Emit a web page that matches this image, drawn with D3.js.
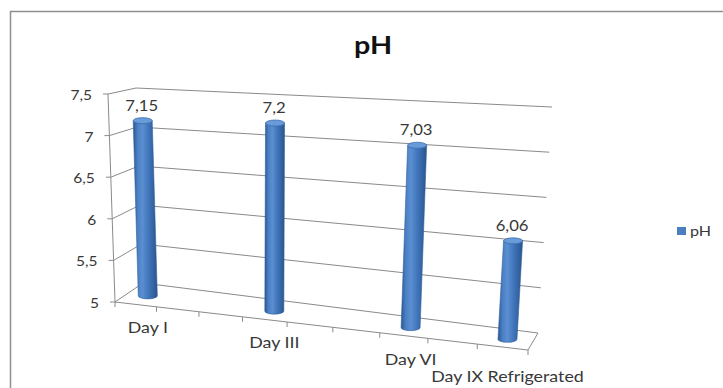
<!DOCTYPE html>
<html>
<head>
<meta charset="utf-8">
<script src="https://cdn.jsdelivr.net/npm/d3@7"></script>
<style>
  body { margin: 0; background: #fff; }
  svg text { font-family: Lato, "Open Sans", sans-serif; }
</style>
</head>
<body>
<div id="chart"></div>
<script>
// values
var categories = ["Day I", "Day III", "Day VI", "Day IX Refrigerated"];
var phValues = [7.15, 7.2, 7.03, 6.06];
// where each category sits along the category axis (axis has 9 tick intervals)
var categorySlots = [0.5, 3.5, 6.5, 8.5];
var slotCount = 9;
var yTickValues = [5, 5.5, 6, 6.5, 7, 7.5];
var seriesName = "pH";

var width = 723, height = 388;
var textStretch = 1.15;   // the source image is stretched sideways

var svg = d3.select("#chart").append("svg")
    .attr("width", width)
    .attr("height", height);

// corners of the 3d box as seen on the picture (front plane / back plane)
var box = {
  front: { bl: [115, 302], br: [528, 350], tl: [108, 94], tr: [543, 109] },
  back:  { bl: [143, 283], br: [538, 333], tl: [136, 88], tr: [552, 107] }
};
var persp = 0.893;  // foreshortening along the category axis

var u = d3.scaleLinear().domain([0, slotCount]).range([0, 1]);
var y = d3.scaleLinear().domain([5, 7.5]).range([0, 1]);

var locale = d3.formatLocale({ decimal: ",", thousands: ".", grouping: [3], currency: ["", ""] });
var fmtTick = locale.format("~g");
var fmtVal = locale.format(".2~f");

function lerp(a, b, t) { return [a[0] + (b[0] - a[0]) * t, a[1] + (b[1] - a[1]) * t]; }

function plane(c, s, t) {
  return lerp(lerp(c.bl, c.br, s), lerp(c.tl, c.tr, s), t);
}

// s along categories, t along values, w depth (0 front, 1 back)
function proj(s, t, w) {
  var sp = persp * s / (1 + (persp - 1) * s);
  return lerp(plane(box.front, sp, t), plane(box.back, sp, t), w);
}

function addText(x, y0, str, size, anchor, opts) {
  opts = opts || {};
  return svg.append("text")
    .attr("transform", "translate(" + x + "," + y0 + ") scale(" + textStretch + ",1)")
    .attr("text-anchor", anchor)
    .style("font-size", size + "px")
    .style("font-weight", opts.bold ? "bold" : "normal")
    .attr("fill", opts.color || "#383838")
    .text(str);
}

var defs = svg.append("defs");
var grad = defs.append("linearGradient").attr("id", "cyl")
    .attr("x1", 0).attr("x2", 1).attr("y1", 0).attr("y2", 0);
[[0, "#2b5790"], [0.18, "#4a7fc4"], [0.38, "#5b8fd2"], [0.65, "#3f74b9"], [1, "#2a558d"]]
  .forEach(function(s) {
    grad.append("stop").attr("offset", s[0]).attr("stop-color", s[1]);
  });

// chart area frame
svg.append("rect")
    .attr("x", 10.5).attr("y", 11.5)
    .attr("width", 800).attr("height", 500)
    .attr("fill", "none")
    .attr("stroke", "#8f8f8f")
    .attr("stroke-width", 1.5);

addText(373, 54, seriesName, 25, "middle", { bold: true, color: "#111" });

var gridColor = "#8a8a8a";
var line = d3.line();

// back wall and side wall gridlines
yTickValues.forEach(function(v) {
  var t = y(v);
  svg.append("path")
      .attr("d", line([proj(0, t, 1), proj(1, t, 1)]))
      .attr("stroke", gridColor).attr("fill", "none");
  svg.append("path")
      .attr("d", line([proj(0, t, 0), proj(0, t, 1)]))
      .attr("stroke", gridColor).attr("fill", "none");
});

// floor: front edge (category axis) and right edge
svg.append("path")
    .attr("d", line([proj(0, 0, 0), proj(1, 0, 0), proj(1, 0, 1)]))
    .attr("stroke", gridColor).attr("fill", "none");

// value axis
svg.append("path")
    .attr("d", line([proj(0, 0, 0), proj(0, 1, 0)]))
    .attr("stroke", gridColor).attr("fill", "none");

yTickValues.forEach(function(v) {
  var p = proj(0, y(v), 0);
  svg.append("path")
      .attr("d", line([[p[0] - 5, p[1]], p]))
      .attr("stroke", gridColor);
  addText(p[0] - 16, p[1] + 6, fmtTick(v), 13.5, "end");
});

// category axis ticks
d3.range(0, slotCount + 1).forEach(function(i) {
  var p = proj(u(i), 0, 0);
  svg.append("path")
      .attr("d", line([p, [p[0], p[1] + 5]]))
      .attr("stroke", gridColor);
});

var barDepth = 0.45, rx = 9.5, ry = 3;

// category labels, dropped a little lower when they would touch the previous one
var prevRight = -Infinity;
categories.forEach(function(c, i) {
  var s = u(categorySlots[i]);
  var px = proj(s, 0, barDepth)[0];
  var py = proj(s, 0, 0)[1] + 29;
  var t = addText(px, py, c, 15.5, "middle");
  var bb = t.node().getBoundingClientRect();
  if (bb.left < prevRight + 4) {
    t.attr("transform", "translate(" + px + "," + (py + 6) + ") scale(" + textStretch + ",1)");
  }
  prevRight = bb.right;
});

// cylinders
categories.forEach(function(c, i) {
  var s = u(categorySlots[i]);
  var b = proj(s, 0, barDepth);
  var t = proj(s, y(phValues[i]), barDepth);
  var d = "M" + (t[0] - rx) + "," + t[1] +
          " L" + (b[0] - rx) + "," + b[1] +
          " A" + rx + "," + ry + " 0 0 0 " + (b[0] + rx) + "," + b[1] +
          " L" + (t[0] + rx) + "," + t[1] + " Z";
  svg.append("path")
      .attr("d", d)
      .attr("fill", "url(#cyl)")
      .attr("stroke", "#2f5e9c")
      .attr("stroke-width", 0.6);
  svg.append("ellipse")
      .attr("cx", t[0]).attr("cy", t[1])
      .attr("rx", rx).attr("ry", ry)
      .attr("fill", "#6a9bd9")
      .attr("stroke", "#3a6cae")
      .attr("stroke-width", 0.8);
  addText(t[0] - 1, t[1] - 10, fmtVal(phValues[i]), 14.5, "middle");
});

// legend
svg.append("rect")
    .attr("x", 677).attr("y", 227)
    .attr("width", 9).attr("height", 8)
    .attr("fill", "#4a7ebf");
addText(690, 236, seriesName, 14, "start");
</script>
</body>
</html>
